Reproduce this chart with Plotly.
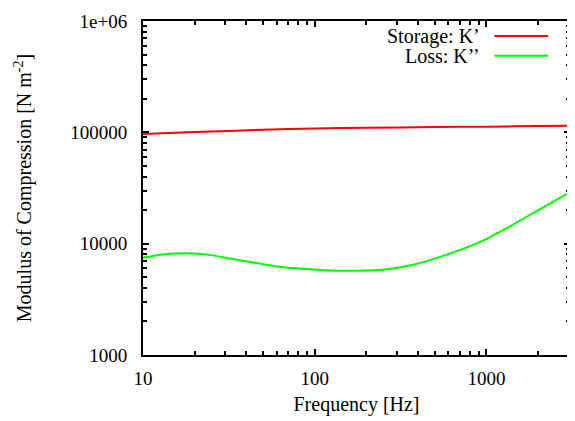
import plotly.graph_objects as go

# Data
storage_freq = [10, 20, 50, 100, 200, 500, 1000, 2000, 3060]
storage_k = [96600, 100500, 105500, 108300, 110000, 111500, 112500, 113800, 114500]

loss_freq = [10, 13, 17.9, 25, 32, 45, 62, 90, 121, 158, 237, 300, 369, 577, 900, 1403, 2188, 3060]
loss_k = [7470, 7980, 8210, 7890, 7350, 6730, 6200, 5910, 5740, 5710, 5800, 6050, 6420, 7890, 10200, 14590, 21660, 28850]

x_tickvals = [10, 100, 1000]
x_ticktext = ["10", "100", "1000"]
y_tickvals = [1000, 10000, 100000, 1000000]
y_ticktext = ["1000", "10000", "100000", "1e+06"]

legend_labels = ["Storage: K\u2019", "Loss: K\u2019\u2019"]
colors = ["#ff0000", "#00ff00"]

FONT = "Liberation Serif, Times New Roman, serif"

# minor tick positions (2..9 in each decade)
x_minor = [m * 10 ** d for d in range(1, 4) for m in range(2, 10)]
y_minor = [m * 10 ** d for d in range(3, 6) for m in range(2, 10)]

fig = go.Figure()
fig.add_trace(go.Scatter(x=storage_freq, y=storage_k, mode="lines",
                         line=dict(color=colors[0], width=2, shape="spline", smoothing=0.5),
                         showlegend=False))
fig.add_trace(go.Scatter(x=loss_freq, y=loss_k, mode="lines",
                         line=dict(color=colors[1], width=2, shape="spline", smoothing=0.5),
                         showlegend=False))

axis_common = dict(
    type="log", showgrid=False, zeroline=False,
    showline=True, linecolor="black", linewidth=2, mirror="allticks",
    ticks="inside", ticklen=6, tickwidth=2, tickcolor="black",
    tickfont=dict(family=FONT, size=19, color="black"),
    ticklabeloverflow="allow",
)

fig.update_xaxes(range=[1, 3.487], tickmode="array", tickvals=x_tickvals, ticktext=x_ticktext,
                 ticklabelstandoff=5,
                 minor=dict(tickmode="array", tickvals=x_minor, ticks="inside", ticklen=4,
                            tickwidth=1.5, tickcolor="black", showgrid=False),
                 title=dict(text="Frequency [Hz]", font=dict(family=FONT, size=20, color="black"), standoff=9),
                 **axis_common)
fig.update_yaxes(range=[3, 6], tickmode="array", tickvals=y_tickvals, ticktext=y_ticktext,
                 ticklabelstandoff=10,
                 minor=dict(tickmode="array", tickvals=y_minor, ticks="inside", ticklen=4,
                            tickwidth=1.5, tickcolor="black", showgrid=False),
                 title=dict(text="Modulus of Compression [N m<sup>-2</sup>]",
                            font=dict(family=FONT, size=20, color="black"), standoff=33),
                 **axis_common)

# gnuplot-style key: right-aligned text followed by sample line
key_rows_y = [0.955, 0.896]
for lbl, col, yy in zip(legend_labels, colors, key_rows_y):
    fig.add_annotation(x=0.794, y=yy, xref="paper", yref="paper", text=lbl, showarrow=False,
                       xanchor="right", yanchor="middle",
                       font=dict(family=FONT, size=20, color="black"))
    fig.add_shape(type="line", xref="paper", yref="paper", x0=0.823, x1=0.949, y0=yy, y1=yy,
                  line=dict(color=col, width=2))

fig.update_layout(
    width=567, height=413,
    margin=dict(l=135, r=3, t=9, b=66),
    plot_bgcolor="white", paper_bgcolor="white",
    font=dict(family=FONT, size=19, color="black"),
)

fig.write_html("out.html")
